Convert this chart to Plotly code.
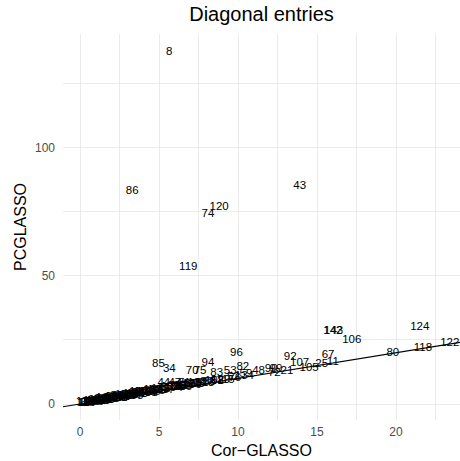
import plotly.graph_objects as go

# Outlying / readable labels
out_labels = ["8", "86", "43", "120", "74", "119", "124", "142", "143", "106", "80", "118", "122",
              "67", "25", "11", "105", "107", "92", "90", "99", "72", "21", "48", "59", "96", "94",
              "82", "85", "34", "70", "75", "83", "53", "44", "47", "71"]
out_x = [5.65, 3.3, 13.9, 8.8, 8.1, 6.85, 21.5, 16.0, 16.05, 17.2, 19.8, 21.7, 23.4,
         15.7, 15.3, 16.0, 14.5, 13.9, 13.3, 12.1, 12.4, 12.3, 13.1, 11.3, 10.5, 9.9, 8.1,
         10.3, 4.96, 5.65, 7.1, 7.6, 8.65, 9.5, 5.3, 6.0, 6.6]
out_y = [137.4, 83.2, 84.9, 76.7, 74.2, 53.6, 30.0, 28.3, 28.5, 25.0, 20.0, 21.7, 23.7,
         19.1, 15.6, 16.3, 14.2, 15.9, 18.5, 13.7, 13.7, 12.2, 12.9, 12.9, 11.7, 20.0, 15.9,
         14.3, 15.6, 13.5, 12.9, 12.9, 12.2, 12.7, 8.3, 8.1, 8.0]

# Dense band near the diagonal
band_labels = ["1", "2", "3", "4", "5", "6", "7", "9", "10", "12", "13", "14", "15", "16", "17",
               "18", "19", "20", "22", "23", "24", "26", "27", "28", "29", "30", "31", "32", "33",
               "35", "36", "37", "38", "39", "40", "41", "42", "45", "46", "49", "50", "51", "52",
               "54", "55", "56", "57", "58", "60", "61", "62", "63", "64", "65", "66", "68", "69",
               "73", "76", "77", "78", "79", "81", "84", "87", "88", "89", "91", "93", "95", "97",
               "98", "100", "101", "102", "103", "104", "108", "109", "110", "111", "112", "113",
               "114", "115", "116", "117", "121", "123", "125", "126", "127", "128", "129", "130",
               "131", "132", "133", "134", "135", "136", "137", "138", "139", "140", "141"]
band_x = [0.4, 1.2, 2.1, 0.8, 3.4, 1.7, 4.6, 2.9, 0.6, 5.8, 1.4, 3.1, 0.3, 2.5, 6.4,
          0.2, 1.9, 4.1, 2.7, 7.3, 1.0, 3.7, 5.2, 0.9, 2.3, 6.1, 1.6, 4.4, 3.0,
          0.5, 2.0, 5.5, 8.2, 1.3, 3.9, 2.6, 3.9, 6.8, 1.8, 0.7, 3.3, 7.7, 9.7,
          2.2, 5.0, 1.1, 3.6, 8.7, 4.2, 1.5, 6.6, 2.8, 0.4, 4.7, 3.5, 7.0, 2.4,
          1.2, 9.8, 3.2, 6.0, 0.6, 4.5, 2.0, 8.0, 1.7, 5.3, 3.8, 7.5, 0.9, 2.9,
          6.3, 4.0, 1.4, 8.5, 3.1, 5.9, 2.2, 7.1, 0.3, 4.8, 1.9, 6.7,
          3.5, 9.2, 2.6, 5.4, 1.0, 7.9, 4.3, 2.4, 6.2, 1.6, 8.9, 3.7,
          0.8, 5.7, 2.8, 10.4, 4.6, 1.3, 7.4, 3.4, 6.5, 2.1, 5.1]
band_y = [0.6, 1.5, 2.6, 0.9, 3.9, 2.0, 5.1, 3.2, 0.4, 6.6, 1.2, 3.7, 0.2, 2.4, 7.1,
          0.5, 2.3, 4.4, 3.0, 7.9, 1.3, 4.3, 5.6, 0.7, 2.9, 6.4, 1.4, 4.9, 2.9,
          0.8, 1.9, 6.2, 8.6, 1.9, 4.0, 2.1, 4.5, 7.4, 1.6, 1.1, 3.3, 8.1, 10.3,
          2.1, 5.2, 0.9, 3.5, 9.0, 4.8, 1.8, 6.9, 2.7, 0.3, 4.6, 4.1, 7.6, 2.6,
          1.0, 10.0, 3.6, 6.8, 0.9, 4.2, 2.5, 8.4, 1.7, 6.0, 3.8, 7.8, 1.4, 2.8,
          7.0, 4.7, 1.6, 8.9, 3.3, 6.1, 2.7, 7.2, 0.6, 5.3, 1.8, 7.7,
          3.7, 9.5, 3.1, 5.5, 1.1, 8.3, 4.5, 2.3, 6.6, 2.1, 9.2, 4.6,
          1.2, 6.5, 3.4, 10.8, 5.5, 1.3, 8.3, 3.1, 6.7, 2.2, 5.9]

labels = band_labels + out_labels
xs = band_x + out_x
ys = band_y + out_y

x_range = [-1.08, 24.05]
y_range = [-6.25, 144.5]

FONT = "Liberation Sans, Arial, Helvetica, sans-serif"
GRID = "#EBEBEB"

fig = go.Figure()
fig.add_trace(go.Scatter(
    x=xs, y=ys, mode="text", text=labels,
    textposition="middle center",
    textfont=dict(family=FONT, size=11.5, color="black"),
    hoverinfo="skip", showlegend=False))
fig.add_trace(go.Scatter(
    x=x_range, y=x_range, mode="lines",
    line=dict(color="black", width=1.2),
    hoverinfo="skip", showlegend=False))

fig.update_layout(
    width=460, height=461, autosize=False,
    margin=dict(l=63, r=0, t=34, b=41),
    paper_bgcolor="white", plot_bgcolor="white",
    font=dict(family=FONT, color="black"),
    title=dict(text="Diagonal entries", x=0.5, xref="paper", xanchor="center",
               y=1 - 14 / 461, yref="container", yanchor="middle",
               font=dict(size=20, color="black", family=FONT)),
)
fig.update_xaxes(
    range=x_range, tick0=0, dtick=5, showgrid=True, gridcolor=GRID, gridwidth=1.1,
    minor=dict(tick0=0, dtick=2.5, showgrid=True, gridcolor=GRID, gridwidth=0.6),
    zeroline=False, showline=False, ticks="", ticklabelstandoff=3,
    tickfont=dict(size=12, color="#4D4D4D", family=FONT),
    title=dict(text="Cor\u2212GLASSO", font=dict(size=16, color="black", family=FONT), standoff=6),
)
fig.update_yaxes(
    range=y_range, tick0=0, dtick=50, showgrid=True, gridcolor=GRID, gridwidth=1.1,
    minor=dict(tick0=0, dtick=25, showgrid=True, gridcolor=GRID, gridwidth=0.6),
    zeroline=False, showline=False, ticks="", ticklabelstandoff=7,
    tickfont=dict(size=12, color="#4D4D4D", family=FONT),
    title=dict(text="PCGLASSO", font=dict(size=16, color="black", family=FONT), standoff=4),
)

fig.write_html("out.html")
